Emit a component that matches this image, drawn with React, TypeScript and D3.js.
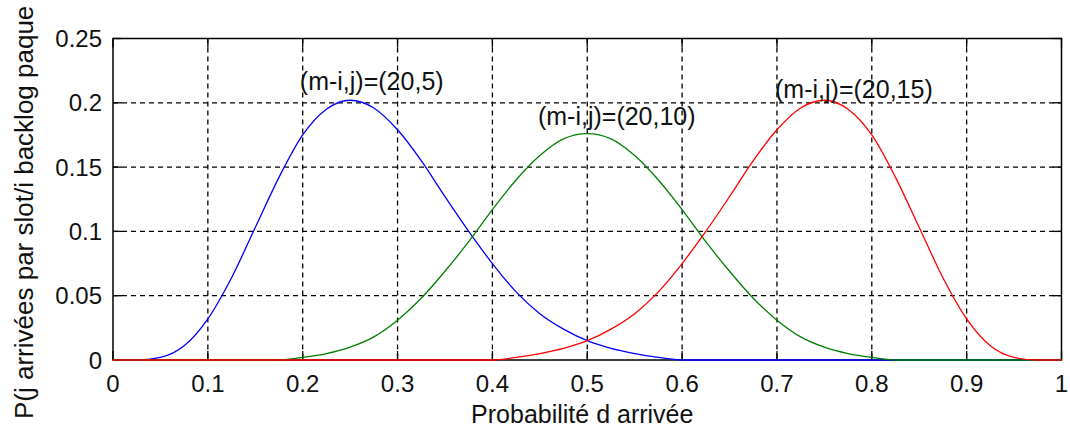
import { useEffect, useRef } from 'react';
import * as d3 from 'd3';

// probabilité d'arrivée (0 -> 1 par pas de 0.025)
const probs = [
  0, 0.025, 0.05, 0.075, 0.1, 0.125, 0.15, 0.175, 0.2, 0.225, 0.25, 0.275, 0.3, 0.325,
  0.35, 0.375, 0.4, 0.425, 0.45, 0.475, 0.5, 0.525, 0.55, 0.575, 0.6, 0.625, 0.65,
  0.675, 0.7, 0.725, 0.75, 0.775, 0.8, 0.825, 0.85, 0.875, 0.9, 0.925, 0.95, 0.975, 1,
];

// (m-i,j)=(20,5)
const serieJ5 = [
  0, 0, 0.002, 0.011, 0.032, 0.064, 0.103, 0.142, 0.175, 0.195, 0.202, 0.196, 0.179,
  0.155, 0.127, 0.1, 0.075, 0.053, 0.036, 0.024, 0.015, 0.009, 0.005, 0.002, 0, 0, 0,
  0, 0, 0, 0, 0, 0, 0, 0, 0, 0, 0, 0, 0, 0,
];

// (m-i,j)=(20,10)
const serieJ10 = [
  0, 0, 0, 0, 0, 0, 0, 0, 0.002, 0.005, 0.01, 0.018, 0.031, 0.048, 0.069, 0.092, 0.117,
  0.14, 0.159, 0.172, 0.176, 0.172, 0.159, 0.14, 0.117, 0.092, 0.069, 0.048, 0.031,
  0.018, 0.01, 0.005, 0.002, 0, 0, 0, 0, 0, 0, 0, 0,
];

// (m-i,j)=(20,15)
const serieJ15 = [
  0, 0, 0, 0, 0, 0, 0, 0, 0, 0, 0, 0, 0, 0, 0, 0, 0, 0.002, 0.005, 0.009, 0.015, 0.024,
  0.036, 0.053, 0.075, 0.1, 0.127, 0.155, 0.179, 0.196, 0.202, 0.195, 0.175, 0.142,
  0.103, 0.064, 0.032, 0.011, 0.002, 0, 0,
];

const xTicks = [0, 0.1, 0.2, 0.3, 0.4, 0.5, 0.6, 0.7, 0.8, 0.9, 1];
const yTicks = [0, 0.05, 0.1, 0.15, 0.2, 0.25];

const labels = ['(m-i,j)=(20,5)', '(m-i,j)=(20,10)', '(m-i,j)=(20,15)'];
const labelX = [0.197, 0.448, 0.698];
const labelY = [0.21, 0.1827, 0.2037];

const W = 1070;
const H = 432;
const FONT = '"Liberation Sans", Arial, sans-serif';

export default function App() {
  const svgRef = useRef<SVGSVGElement>(null);

  useEffect(() => {
    if (!svgRef.current) return;
    const svg = d3.select(svgRef.current);
    svg.selectAll('*').remove();

    const margin = { top: 38.5, right: 8.5, bottom: 72, left: 113 };
    const x = d3.scaleLinear().domain([0, 1]).range([margin.left, W - margin.right]);
    const y = d3.scaleLinear().domain([0, 0.25]).range([H - margin.bottom, margin.top]);
    const [x0, x1] = x.range();
    const [y0, y1] = y.range();

    svg.append('rect').attr('width', W).attr('height', H).attr('fill', '#fff');

    // grille pointillée
    const grid = svg.append('g').attr('stroke', '#000').attr('stroke-width', 1.3)
      .attr('stroke-dasharray', '5,4');
    grid.selectAll('line.gx').data(xTicks.slice(1, -1)).join('line')
      .attr('x1', (d) => x(d)).attr('x2', (d) => x(d)).attr('y1', y1).attr('y2', y0);
    grid.selectAll('line.gy').data(yTicks.slice(1, -1)).join('line')
      .attr('class', 'gy')
      .attr('x1', x0).attr('x2', x1).attr('y1', (d) => y(d)).attr('y2', (d) => y(d));

    // graduations vers l'intérieur, sur les quatre côtés
    const tk = 9;
    const ticks = svg.append('g').attr('stroke', '#000').attr('stroke-width', 1.3);
    xTicks.forEach((t) => {
      ticks.append('line').attr('x1', x(t)).attr('x2', x(t)).attr('y1', y0).attr('y2', y0 - tk);
      ticks.append('line').attr('x1', x(t)).attr('x2', x(t)).attr('y1', y1).attr('y2', y1 + tk);
    });
    yTicks.forEach((t) => {
      ticks.append('line').attr('x1', x0).attr('x2', x0 + tk).attr('y1', y(t)).attr('y2', y(t));
      ticks.append('line').attr('x1', x1).attr('x2', x1 - tk).attr('y1', y(t)).attr('y2', y(t));
    });

    // cadre
    svg.append('rect')
      .attr('x', x0).attr('y', y1).attr('width', x1 - x0).attr('height', y0 - y1)
      .attr('fill', 'none').attr('stroke', '#000').attr('stroke-width', 1.5);

    // courbes (par-dessus le cadre, comme dans MATLAB)
    const series = [
      { values: serieJ5, color: '#0000ff' },
      { values: serieJ10, color: '#008000' },
      { values: serieJ15, color: '#ff0000' },
    ];
    const line = d3.line<number>()
      .x((_, i) => x(probs[i]))
      .y((d) => y(d))
      .curve(d3.curveMonotoneX);
    series.forEach((s) => {
      svg.append('path')
        .datum(s.values)
        .attr('fill', 'none')
        .attr('stroke', s.color)
        .attr('stroke-width', 1.3)
        .attr('d', line as never);
    });

    // libellés des graduations
    svg.append('g').selectAll('text').data(xTicks).join('text')
      .attr('x', (d) => x(d)).attr('y', y0 + 32)
      .attr('text-anchor', 'middle')
      .style('font-family', FONT).style('font-size', '24px').attr('fill', '#111')
      .text((d) => d3.format('~g')(d));
    svg.append('g').selectAll('text').data(yTicks).join('text')
      .attr('x', x0 - 11).attr('y', (d) => y(d)).attr('dy', '0.36em')
      .attr('text-anchor', 'end')
      .style('font-family', FONT).style('font-size', '24px').attr('fill', '#111')
      .text((d) => d3.format('~g')(d));

    // annotations
    labels.forEach((l, i) => {
      svg.append('text')
        .attr('x', x(labelX[i])).attr('y', y(labelY[i]))
        .style('font-family', FONT).style('font-size', '25px').attr('fill', '#111')
        .text(l);
    });

    // titres des axes
    svg.append('text')
      .attr('x', (x0 + x1) / 2 - 5).attr('y', 423)
      .attr('text-anchor', 'middle')
      .style('font-family', FONT).style('font-size', '25px').attr('fill', '#111')
      .text('Probabilité d arrivée');
    svg.append('text')
      .attr('transform', 'translate(33,419) rotate(-90)')
      .attr('text-anchor', 'start')
      .style('font-family', FONT).style('font-size', '26px').attr('fill', '#111')
      .text('P(j arrivées par slot/i backlog paque');
  }, []);

  return (
    <svg
      ref={svgRef}
      width={W}
      height={H}
      style={{ position: 'absolute', left: 0, top: 0, display: 'block' }}
    />
  );
}
